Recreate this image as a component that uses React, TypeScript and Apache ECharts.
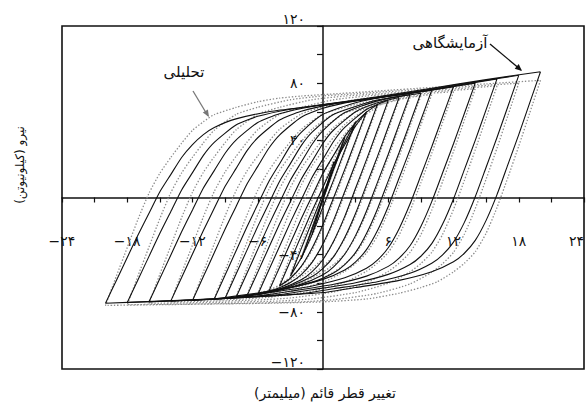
import React, { useEffect, useRef } from "react";
import * as echarts from "echarts";

// Tick label values (Persian digits are produced for display)
const xLabelValues = [-24, -18, -12, -6, 6, 12, 18, 24];
const yLabelValues = [-120, -80, -40, 40, 80, 120];

// Experimental loops (solid) [displacement mm, force kN]
const exp01 = [[1,25],[0.5,12.2],[0,-0.5],[-0.5,-13.3],[-1,-26],[-0.5,-13.2],[0,-0.5],[0.5,12.3],[1,25]];
const exp02 = [[2,42],[1,20.2],[0,-1.6],[-1,-22.4],[-2,-43],[-1,-21.4],[0,0.2],[1,21.8],[2,42]];
const exp03 = [[3,53],[2,32.9],[1,12.7],[0,-6.5],[-1,-25.7],[-2,-42.2],[-3,-55],[-2,-35.8],[-1,-16.6],[0,2.6],[1,20.6],[2,38.6],[3,53]];
const exp04 = [[4,60],[3,39.8],[2,19.7],[1,0.4],[0,-18.9],[-1,-35.4],[-2,-48.2],[-3,-56.5],[-4,-62],[-3,-44.4],[-2,-26.8],[-1,-9.2],[0,7.2],[1,23.7],[2,36.9],[3,50.1],[4,60]];
const exp05 = [[5,65],[4,44.4],[3,23.8],[2,4.2],[1,-15.5],[0,-32.3],[-1,-45.4],[-2,-53.9],[-3,-59.5],[-4,-63.2],[-5,-66],[-4,-49],[-3,-31.9],[-2,-14.9],[-1,1.1],[0,17.1],[1,29.9],[2,42.6],[3,52.2],[4,59.7],[5,65]];
const exp06 = [[6,68],[5,47.2],[4,26.5],[3,6.6],[2,-13.2],[1,-30.2],[0,-43.4],[-1,-51.9],[-2,-57.6],[-4,-64.2],[-6,-68],[-5,-51.1],[-4,-34.3],[-3,-17.4],[-2,-1.6],[-1,14.2],[0,26.9],[1,39.5],[2,49],[4,61.6],[6,68]];
const exp07 = [[7,70],[6,49.3],[5,28.6],[4,8.8],[3,-11],[2,-28],[1,-41.2],[0,-49.6],[-1,-55.3],[-3,-61.9],[-5,-65.6],[-7,-69],[-6,-52.2],[-5,-35.4],[-4,-18.6],[-3,-2.9],[-2,12.8],[-1,25.4],[0,38],[1,47.4],[3,60],[5,66.3],[7,70]];
const exp08 = [[8,72],[7,51.2],[6,30.3],[5,10.4],[4,-9.4],[3,-26.5],[2,-39.7],[1,-48.3],[0,-54],[-2,-60.6],[-5,-66.3],[-8,-70],[-7,-53.2],[-6,-36.3],[-5,-19.5],[-4,-3.7],[-3,12.1],[-2,24.7],[-1,37.3],[0,46.8],[2,59.4],[5,67.6],[8,72]];
const exp09 = [[9,73],[8,52.2],[7,31.5],[6,11.6],[5,-8.2],[4,-25.2],[3,-38.4],[2,-46.9],[1,-52.6],[-1,-59.2],[-5,-66.2],[-9,-70.5],[-8,-53.7],[-7,-37],[-6,-20.2],[-5,-4.5],[-4,11.2],[-3,23.7],[-2,36.3],[-1,45.7],[1,58.3],[5,68.2],[9,73]];
const exp10 = [[10,75],[9,54.2],[8,33.4],[7,13.6],[6,-6.3],[5,-23.3],[4,-36.5],[3,-45],[2,-50.7],[0,-57.3],[-3,-63],[-6,-66.8],[-10,-71],[-9,-54.2],[-8,-37.4],[-7,-20.6],[-6,-4.8],[-5,10.9],[-4,23.5],[-3,36.1],[-2,45.6],[0,58.2],[3,66.3],[6,70.8],[10,75]];
const exp12 = [[12,77.5],[11,56.5],[10,35.5],[9,15.4],[8,-4.6],[7,-21.8],[6,-35.2],[5,-43.8],[4,-49.5],[2,-56.2],[-1,-61.9],[-5,-66.7],[-8,-70],[-12,-72],[-11,-55.3],[-10,-38.7],[-9,-22],[-8,-6.4],[-7,9.3],[-6,21.8],[-5,34.3],[-4,43.7],[-2,56.2],[0,62.4],[3,67.6],[6,70.8],[8,72.8],[12,77.5]];
const exp14 = [[14,80],[13,58.8],[12,37.6],[11,17.3],[10,-2.9],[9,-20.3],[8,-33.8],[7,-42.4],[6,-48.2],[4,-55],[1,-60.7],[-3,-65.6],[-6,-68.9],[-10,-71],[-14,-72.5],[-13,-56],[-12,-39.5],[-11,-23.1],[-10,-7.6],[-9,7.8],[-8,20.2],[-7,32.6],[-6,41.8],[-4,54.2],[-2,60.4],[1,65.5],[4,68.6],[6,70.7],[10,75.3],[14,80]];
const exp16 = [[16,83],[15,61.5],[14,40],[13,19.5],[12,-1],[11,-18.6],[10,-32.3],[9,-41.1],[8,-46.9],[6,-53.8],[3,-59.6],[-1,-64.5],[-4,-67.9],[-9,-70.4],[-16,-73],[-15,-56.7],[-14,-40.4],[-13,-24],[-12,-8.7],[-11,6.6],[-10,18.8],[-9,31],[-8,40.2],[-6,52.5],[-4,58.6],[-1,63.7],[2,66.7],[4,68.8],[9,74.4],[16,83]];
const exp18 = [[18,85.5],[17,63.7],[16,42],[15,21.2],[14,0.5],[13,-17.4],[12,-31.2],[11,-40.1],[10,-46],[8,-53],[5,-58.9],[1,-63.8],[-2,-67.3],[-7,-69.8],[-12,-71.8],[-18,-73.5],[-17,-57.3],[-16,-41.2],[-15,-25],[-14,-9.9],[-13,5.3],[-12,17.4],[-11,29.5],[-10,38.6],[-8,50.7],[-6,56.8],[-3,61.8],[0,64.9],[2,66.9],[7,72.4],[12,78.5],[18,85.5]];
const exp20 = [[20,88],[19,66],[18,44],[17,23],[16,2],[15,-16],[14,-30],[13,-39],[12,-45],[10,-52],[7,-58],[3,-63],[0,-66.5],[-5,-69],[-10,-71],[-15,-72.5],[-20,-74],[-19,-58],[-18,-42],[-17,-26],[-16,-11],[-15,4],[-14,16],[-13,28],[-12,37],[-11,44],[-10,49],[-8,55],[-5,60],[-2,63],[0,65],[5,70.5],[10,76.5],[15,82.5],[20,88]];

// Analytical loops (dotted)
const ana01 = [[1,24],[0.5,11.8],[0,-0.5],[-0.5,-12.7],[-1,-25],[-0.5,-12.5],[0,-0.2],[0.5,11.9],[1,24]];
const ana02 = [[2,41],[1,19.5],[0,-1.9],[-1,-22.4],[-2,-42],[-1,-20.3],[0,0.8],[1,21.9],[2,41]];
const ana03 = [[3,52],[2,31.7],[1,11.4],[0,-8],[-1,-26.6],[-2,-42.5],[-3,-54],[-2,-33],[-1,-12.5],[0,8],[1,26.4],[2,40.7],[3,52]];
const ana04 = [[4,59],[3,38.4],[2,17.8],[1,-1.9],[0,-20.7],[-1,-36.9],[-2,-48.5],[-3,-55.7],[-4,-61],[-3,-40.9],[-2,-21.3],[-1,-1.7],[0,15.9],[1,29.7],[2,40.4],[3,50.2],[4,59]];
const ana05 = [[5,63.5],[4,42.7],[3,22],[2,2.1],[1,-16.9],[0,-33.1],[-1,-44.9],[-2,-52.1],[-3,-57.5],[-5,-65],[-4,-45.3],[-3,-26],[-2,-6.7],[-1,10.6],[0,24.1],[1,34.7],[2,44.3],[3,53],[5,63.5]];
const ana06 = [[6,66.5],[5,45.6],[4,24.7],[3,4.8],[2,-14.3],[1,-30.7],[0,-42.5],[-1,-49.7],[-2,-55.2],[-4,-62.7],[-6,-67],[-5,-47.2],[-4,-28],[-3,-8.7],[-2,8.7],[-1,22.2],[0,32.8],[1,42.4],[2,51.1],[4,61.7],[6,66.5]];
const ana07 = [[7,68.5],[6,47.5],[5,26.6],[4,6.6],[3,-12.6],[2,-29],[1,-40.8],[0,-48.1],[-1,-53.6],[-3,-61.1],[-5,-65.4],[-7,-68.5],[-6,-48.8],[-5,-29.6],[-4,-10.4],[-3,6.9],[-2,20.4],[-1,31],[0,40.6],[1,49.2],[3,59.8],[5,64.6],[7,68.5]];
const ana08 = [[8,70],[7,49],[6,28],[5,8],[4,-11.2],[3,-27.6],[2,-39.4],[1,-46.7],[0,-52.2],[-2,-59.8],[-5,-65.9],[-8,-69.5],[-7,-49.8],[-6,-30.5],[-5,-11.3],[-4,6],[-3,19.5],[-2,30.1],[-1,39.7],[0,48.3],[2,58.9],[5,65.7],[8,70]];
const ana09 = [[9,71],[8,49.9],[7,28.7],[6,8.5],[5,-10.8],[4,-27.3],[3,-39.3],[2,-46.6],[1,-52.1],[-1,-59.8],[-5,-67.1],[-9,-70.5],[-8,-50.7],[-7,-31.4],[-6,-12.1],[-5,5.3],[-4,18.9],[-3,29.5],[-2,39.1],[-1,47.8],[1,58.5],[5,67.2],[9,71]];
const ana10 = [[10,72],[9,50.8],[8,29.5],[7,9.2],[6,-10.1],[5,-26.8],[4,-38.8],[3,-46.1],[2,-51.7],[0,-59.3],[-3,-65.5],[-6,-69.2],[-10,-71],[-9,-51.1],[-8,-31.8],[-7,-12.4],[-6,5.1],[-5,18.6],[-4,29.3],[-3,39],[-2,47.7],[0,58.4],[3,65.1],[6,69.5],[10,72]];
const ana12 = [[12,74],[11,52.4],[10,30.9],[9,10.3],[8,-9.4],[7,-26.3],[6,-38.4],[5,-45.9],[4,-51.6],[2,-59.3],[-1,-65.6],[-5,-69.8],[-8,-71.2],[-12,-72],[-11,-52],[-10,-32.4],[-9,-12.9],[-8,4.7],[-7,18.4],[-6,29.1],[-5,38.9],[-4,47.7],[-2,58.4],[0,63.3],[3,68.5],[6,71.1],[8,72.1],[12,74]];
const ana14 = [[14,76],[13,54.1],[12,32.2],[11,11.2],[10,-8.8],[9,-26],[8,-38.4],[7,-46],[6,-51.7],[4,-59.6],[1,-66],[-3,-70.3],[-6,-71.7],[-10,-72.5],[-14,-73],[-13,-52.8],[-12,-33.2],[-11,-13.5],[-10,4.2],[-9,17.9],[-8,28.7],[-7,38.6],[-6,47.4],[-4,58.2],[-2,63.1],[1,68.4],[4,71],[6,72],[10,74],[14,76]];
const ana16 = [[16,78],[15,55.7],[14,33.4],[13,12],[12,-8.3],[11,-25.8],[10,-38.4],[9,-46.2],[8,-52],[6,-60],[3,-66.5],[-1,-70.9],[-4,-72.4],[-9,-73.3],[-16,-74],[-15,-53.7],[-14,-33.9],[-13,-14.1],[-12,3.7],[-11,17.6],[-10,28.5],[-9,38.4],[-8,47.3],[-6,58.2],[-4,63.1],[-1,68.4],[2,71],[4,72],[9,74.5],[16,78]];
const ana18 = [[18,80],[17,57.3],[16,34.6],[15,12.9],[14,-7.8],[13,-25.6],[12,-38.4],[11,-46.3],[10,-52.3],[8,-60.5],[5,-67.1],[1,-71.5],[-2,-73],[-7,-74],[-12,-74.5],[-18,-75],[-17,-54.6],[-16,-34.6],[-15,-14.7],[-14,3.3],[-13,17.2],[-12,28.2],[-11,38.2],[-10,47.1],[-8,58.1],[-6,63.1],[-3,68.4],[0,71.1],[2,72.1],[7,74.6],[12,77],[18,80]];
const ana20 = [[20,82],[19,59],[18,36],[17,14],[16,-7],[15,-25],[14,-38],[13,-46],[12,-52],[10.5,-59],[9,-63],[7,-67],[4,-71],[0,-73],[-5,-74],[-10,-74.5],[-15,-75],[-20,-75.5],[-19,-55],[-18,-35],[-17,-15],[-16,3],[-15,17],[-14,28],[-13,38],[-12,47],[-11,53],[-10,58],[-8,63],[-6,67],[-4,69.5],[-2,71],[0,72],[5,74.5],[10,77],[15,79.5],[20,82]];

const expLoops = [exp01, exp02, exp03, exp04, exp05, exp06, exp07, exp08, exp09, exp10, exp12, exp14, exp16, exp18, exp20];
const anaLoops = [ana01, ana02, ana03, ana04, ana05, ana06, ana07, ana08, ana09, ana10, ana12, ana14, ana16, ana18, ana20];

const labelExperimental = "آزمایشگاهی";
const labelAnalytical = "تحلیلی";
const xName = "تغییر قطر قائم (میلیمتر)\u200F";
const yName = "نیرو (کیلونیوتن)\u200F";

const FONT = "DejaVu Sans";
const PD = "۰۱۲۳۴۵۶۷۸۹";
function fa(n: number): string {
  const s = String(Math.abs(n)).replace(/\d/g, (d) => PD[+d]);
  return n < 0 ? "\u2212" + s : s;
}

const W = 586;
const H = 407;
const G = { left: 62, right: 2, top: 26, bottom: 38 };

export default function App() {
  const ref = useRef<HTMLDivElement>(null);
  useEffect(() => {
    if (!ref.current) return;
    const chart = echarts.init(ref.current, undefined, { renderer: "svg" });
    const gridW = W - G.left - G.right;
    const gridH = H - G.top - G.bottom;
    const series: any[] = [];
    anaLoops.forEach((d, i) =>
      series.push({
        type: "line",
        name: "ana" + i,
        data: d,
        showSymbol: false,
        symbol: "none",
        smooth: 0.2,
        silent: true,
        lineStyle: { color: "#8c8c8c", width: 1.3, type: [1.4, 1.8] },
      })
    );
    expLoops.forEach((d, i) =>
      series.push({
        type: "line",
        name: "exp" + i,
        data: d,
        showSymbol: false,
        symbol: "none",
        smooth: 0.2,
        silent: true,
        lineStyle: { color: "#111", width: 1.1 },
      })
    );
    chart.setOption({
      animation: false,
      textStyle: { fontFamily: FONT },
      grid: {
        left: G.left,
        right: G.right,
        top: G.top,
        bottom: G.bottom,
        show: true,
        borderColor: "#111",
        borderWidth: 1.6,
        backgroundColor: "transparent",
        containLabel: false,
        outerBoundsMode: "none",
      },
      xAxis: {
        type: "value",
        min: -24,
        max: 24,
        interval: 3,
        position: "bottom",
        offset: -gridH / 2,
        axisLine: { onZero: false, lineStyle: { color: "#111", width: 1.5 } },
        axisTick: { show: true, length: 5, lineStyle: { color: "#111", width: 1.2 } },
        axisLabel: {
          margin: 36,
          color: "#111",
          fontSize: 14,
          fontFamily: FONT,
          alignMaxLabel: "right",
          formatter: (v: number) => (xLabelValues.includes(Math.round(v)) ? fa(Math.round(v)) : ""),
        },
        splitLine: { show: false },
      },
      yAxis: {
        type: "value",
        min: -120,
        max: 120,
        interval: 20,
        position: "left",
        offset: -gridW / 2,
        axisLine: { onZero: false, lineStyle: { color: "#111", width: 1.5 } },
        axisTick: { show: true, length: 6, lineStyle: { color: "#111", width: 1.2 } },
        axisLabel: {
          margin: 18,
          color: "#111",
          fontSize: 14,
          fontFamily: FONT,
          verticalAlignMaxLabel: "bottom",
          verticalAlignMinLabel: "bottom",
          formatter: (v: number) => (yLabelValues.includes(Math.round(v)) ? fa(Math.round(v)) : ""),
        },
        splitLine: { show: false },
      },
      series,
      graphic: [
        {
          type: "text",
          x: 450,
          y: 43,
          style: { text: labelExperimental, fill: "#111", fontSize: 15, fontFamily: FONT, align: "center", verticalAlign: "middle", textAlign: "center", textVerticalAlign: "middle" },
        },
        { type: "line", shape: { x1: 490, y1: 44, x2: 521, y2: 70 }, style: { stroke: "#111", lineWidth: 1.3 } },
        { type: "polygon", shape: { points: [[522, 71], [514.7, 68.7], [518.7, 64.1]] }, style: { fill: "#111" } },
        {
          type: "text",
          x: 184,
          y: 72,
          style: { text: labelAnalytical, fill: "#111", fontSize: 15, fontFamily: FONT, align: "center", verticalAlign: "middle", textAlign: "center", textVerticalAlign: "middle" },
        },
        { type: "line", shape: { x1: 193, y1: 91, x2: 208, y2: 116 }, style: { stroke: "#777", lineWidth: 1.3 } },
        { type: "polygon", shape: { points: [[209, 117], [202.8, 112.6], [207.9, 109.4]] }, style: { fill: "#777" } },
        {
          type: "text",
          x: 325,
          y: 393,
          style: { text: xName, fill: "#111", fontSize: 14, fontFamily: FONT, align: "center", verticalAlign: "middle", textAlign: "center", textVerticalAlign: "middle" },
        },
        {
          type: "text",
          x: 20,
          y: 165,
          rotation: Math.PI / 2,
          style: { text: yName, fill: "#111", fontSize: 12, fontFamily: FONT, align: "center", verticalAlign: "middle", textAlign: "center", textVerticalAlign: "middle" },
        },
      ],
    });
    return () => chart.dispose();
  }, []);
  return <div ref={ref} style={{ position: "fixed", left: 0, top: 0, width: W, height: H, background: "#fff" }} />;
}
